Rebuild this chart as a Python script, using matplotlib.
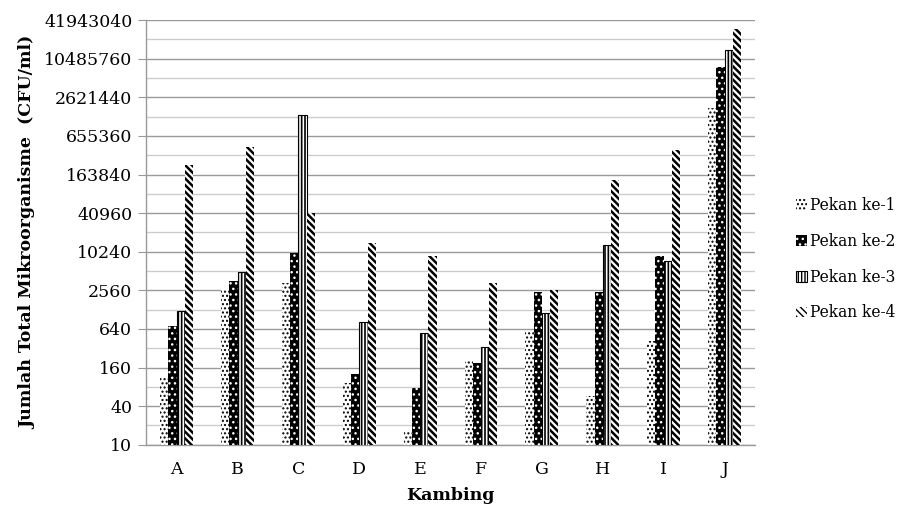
import numpy as np
import matplotlib.pyplot as plt

plt.rcParams['font.family'] = 'DejaVu Serif'
plt.rcParams['hatch.linewidth'] = 1.0

kambing = ['A', 'B', 'C', 'D', 'E', 'F', 'G', 'H', 'I', 'J']
pekan1 = [115, 2670, 3380, 91, 16, 200, 580, 57, 410, 1760000]
pekan2 = [715, 3630, 9900, 126, 76, 190, 2450, 2450, 8800, 7800000]
pekan3 = [1230, 4950, 1390000, 816, 550, 340, 1130, 13000, 7350, 14600000]
pekan4 = [230000, 445000, 41600, 13900, 8800, 3310, 2600, 135000, 395000, 30000000]
labels = ['Pekan ke-1', 'Pekan ke-2', 'Pekan ke-3', 'Pekan ke-4']
yticks = [10, 40, 160, 640, 2560, 10240, 40960, 163840, 655360,
          2621440, 10485760, 41943040]

fig = plt.figure(figsize=(9.14, 5.16), dpi=100)
fig.subplots_adjust(left=0.160, right=0.826, top=0.961, bottom=0.138)
ax = fig.add_subplot(111)

x = np.arange(len(kambing))
w = 0.135
styles = [
    dict(color='white', edgecolor='black', hatch='....', lw=0),
    dict(color='black', edgecolor='white', hatch='...', lw=0),
    dict(color='white', edgecolor='black', hatch='|||||', lw=0.8),
    dict(color='white', edgecolor='black', hatch='\\\\\\\\\\', lw=0),
]
hlw = [1.0, 1.0, 1.2, 1.8]
for i, vals in enumerate([pekan1, pekan2, pekan3, pekan4]):
    with plt.rc_context({'hatch.linewidth': hlw[i]}):
        bars = ax.bar(x + (i - 1.5) * w, vals, w, label=labels[i], zorder=3, **styles[i])
        for b in bars:
            if hasattr(b, 'set_hatch_linewidth'):
                b.set_hatch_linewidth(hlw[i])

ax.set_yscale('log', base=2)
ax.set_ylim(10, 41943040)
ax.set_xlim(-0.5, 9.5)
ax.set_yticks(yticks)
ax.set_yticklabels([str(v) for v in yticks])
ax.set_yticks([2 * v for v in yticks[:-1]], minor=True)
ax.set_yticklabels([], minor=True)
ax.set_xticks(x)
ax.set_xticklabels(kambing)
ax.tick_params(axis='y', which='major', length=6, color='#999999', labelsize=12.5, pad=4)
ax.tick_params(axis='y', which='minor', length=0)
ax.tick_params(axis='x', length=0, labelsize=12.5, pad=12)
ax.grid(True, axis='y', which='major', color='#9a9a9a', lw=1, zorder=0)
ax.grid(True, axis='y', which='minor', color='#cccccc', lw=1, zorder=0)
for s in ['top', 'right']:
    ax.spines[s].set_visible(False)
for s in ['left', 'bottom']:
    ax.spines[s].set_color('#999999')
    ax.spines[s].set_linewidth(1)

ax.set_ylabel('Jumlah Total Mikroorganisme  (CFU/ml)', fontsize=12.5, fontweight='bold', labelpad=6)
ax.set_xlabel('Kambing', fontsize=12.5, fontweight='bold', labelpad=6)

fig.legend(loc='center left', bbox_to_anchor=(0.856, 0.498), frameon=False,
           fontsize=11.2, handlelength=0.7, handleheight=0.7, handletextpad=0.2,
           labelspacing=1.22)

fig.savefig('out.png', dpi=100)
